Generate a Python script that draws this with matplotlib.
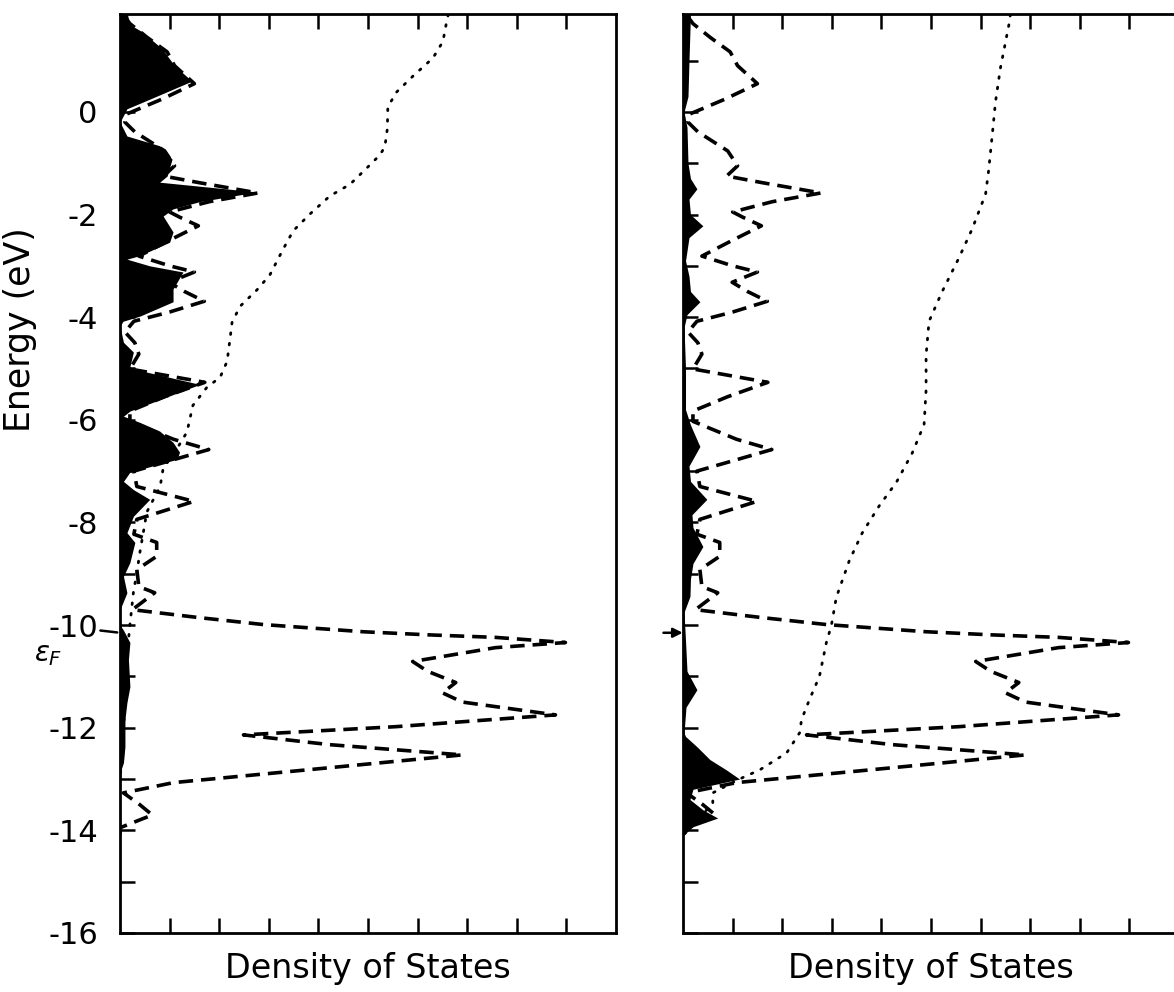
import numpy as np
import matplotlib
matplotlib.use("Agg")
import matplotlib.pyplot as plt

# energy (eV) / DOS pairs, top to bottom
total_E = [1.85, 1.72, 1.45, 1.17, 0.9, 0.55, 0.25, -0.04, -0.2, -0.39, -0.76, -1.05,
           -1.25, -1.38, -1.58, -1.75, -1.95, -2.05, -2.22, -2.5, -2.81, -3.0, -3.12,
           -3.32, -3.5, -3.69, -3.9, -4.08, -4.29, -4.5, -4.72, -5.01, -5.27, -5.55,
           -5.83, -6.03, -6.38, -6.58, -6.8, -7.0, -7.3, -7.59, -7.94, -8.23, -8.39,
           -8.66, -8.92, -9.25, -9.37, -9.7, -9.85, -9.99, -10.13, -10.19, -10.24,
           -10.34, -10.44, -10.71, -10.9, -11.12, -11.32, -11.5, -11.75, -11.98,
           -12.14, -12.33, -12.53, -12.78, -13.07, -13.27, -13.5, -13.7, -13.95, -14.2]
total_dos = [0.1, 0.2, 0.55, 0.95, 1.1, 1.5, 0.85, 0.14, 0.1, 0.3, 0.9, 1.1,
             0.88, 1.6, 2.78, 1.8, 1.0, 1.2, 1.58, 1.0, 0.38, 1.0, 1.5,
             0.99, 1.3, 1.7, 1.0, 0.28, 0.1, 0.3, 0.38, 0.2, 1.71, 0.9,
             0.2, 0.2, 1.08, 1.79, 1.0, 0.28, 0.34, 1.49, 0.34, 0.28, 0.74,
             0.74, 0.34, 0.38, 0.7, 0.25, 1.55, 2.89, 4.9, 6.2, 7.57,
             8.98, 7.57, 5.9, 6.2, 6.77, 6.5, 6.9, 8.78, 5.56,
             2.49, 4.22, 6.9, 4.22, 1.08, 0.07, 0.4, 0.65, 0.0, 0.0]

left_E = [1.9, 1.7, 1.56, 1.23, 0.9, 0.6, 0.31, 0.06, -0.2, -0.47, -0.66, -0.92, -1.25,
          -1.37, -1.56, -1.75, -1.89, -2.03, -2.34, -2.54, -2.8, -2.87, -3.0, -3.12,
          -3.45, -3.7, -3.98, -4.08, -4.18, -4.49, -4.68, -4.96, -5.01, -5.31, -5.83,
          -5.93, -6.05, -6.22, -6.44, -6.63, -6.77, -7.02, -7.2, -7.36, -7.55, -7.88,
          -8.2, -8.39, -8.78, -9.05, -9.37, -9.7, -10.0, -10.1, -10.34, -10.67, -11.2,
          -11.51, -11.84, -12.37, -12.68, -12.88, -16.0]
left_pdos = [0.15, 0.2, 0.45, 0.85, 1.1, 1.45, 0.75, 0.14, 0.0, 0.14, 0.8, 1.05, 0.95,
             0.8, 2.76, 1.6, 1.07, 0.87, 1.07, 1.0, 0.4, 0.14, 0.6, 1.27,
             1.07, 1.07, 0.4, 0.06, 0.0, 0.07, 0.27, 0.2, 0.27, 1.61, 0.2,
             0.07, 0.4, 0.8, 1.07, 1.2, 1.15, 0.2, 0.07, 0.27, 0.6, 0.27,
             0.14, 0.3, 0.2, 0.07, 0.14, 0.0, 0.0, 0.07, 0.2, 0.17, 0.2,
             0.14, 0.1, 0.1, 0.07, 0.0, 0.0]

right_E = [1.9, 1.0, 0.3, 0.0, -0.3, -1.0, -1.3, -1.5, -1.7, -2.0, -2.22, -2.45, -2.9,
           -3.2, -3.5, -3.7, -3.95, -4.2, -5.0, -5.8, -6.1, -6.52, -6.9, -7.2, -7.55,
           -7.85, -8.1, -8.47, -8.8, -9.1, -9.44, -9.75, -10.3, -10.9, -11.26, -11.6,
           -12.1, -12.17, -12.37, -12.62, -12.82, -13.0, -13.2, -13.4, -13.6, -13.76,
           -13.93, -14.1, -16.0]
right_pdos = [0.15, 0.12, 0.1, 0.02, 0.08, 0.1, 0.15, 0.28, 0.12, 0.15, 0.4, 0.12, 0.05,
              0.12, 0.15, 0.34, 0.08, 0.02, 0.05, 0.05, 0.15, 0.34, 0.12, 0.15, 0.48,
              0.18, 0.2, 0.4, 0.2, 0.15, 0.14, 0.02, 0.05, 0.08, 0.28, 0.06,
              0.02, 0.05, 0.28, 0.54, 0.87, 1.14, 0.2, 0.14, 0.4, 0.7,
              0.2, 0.0, 0.0]

left_int_E = [1.9, 1.78, 1.37, 1.05, 0.7, 0.39, 0.1, -0.33, -0.68, -0.84, -1.09, -1.41,
              -1.64, -1.99, -2.32, -2.71, -3.18, -3.47, -3.79, -4.1, -4.41, -4.86, -5.17,
              -5.37, -5.72, -6.24, -6.56, -6.95, -7.3, -7.8, -8.2, -8.59, -8.98, -9.37,
              -10.0, -10.5, -11.5, -12.5, -13.0]
left_int = [6.62, 6.59, 6.51, 6.31, 5.91, 5.58, 5.4, 5.39, 5.34, 5.24, 4.98, 4.64,
            4.23, 3.83, 3.49, 3.27, 3.02, 2.76, 2.42, 2.26, 2.22, 2.16, 2.02,
            1.75, 1.47, 1.35, 1.15, 0.87, 0.81, 0.54, 0.47, 0.4, 0.34, 0.27,
            0.2, 0.15, 0.1, 0.05, 0.0]

right_int_E = [1.9, 1.7, 0.86, 0.2, -0.49, -1.15, -1.6, -2.28, -2.85, -3.51, -4.08, -4.74,
               -5.42, -6.09, -6.65, -7.22, -7.67, -8.21, -8.75, -9.46, -10.01, -10.34,
               -11.0, -11.45, -11.84, -12.1, -12.49, -12.82, -13.0, -13.27, -13.46,
               -13.8, -14.1]
right_int = [6.6, 6.57, 6.4, 6.3, 6.23, 6.16, 6.1, 5.83, 5.56, 5.22, 4.96, 4.9,
             4.9, 4.86, 4.62, 4.3, 3.96, 3.61, 3.35, 3.09, 2.99, 2.89,
             2.75, 2.55, 2.39, 2.35, 2.09, 1.55, 1.14, 0.6, 0.6,
             0.3, 0.0]

e_fermi = -10.15
y_major = [-16, -14, -12, -10, -8, -6, -4, -2, 0]
y_labels = ["-16", "-14", "-12", "-10", "-8", "-6", "-4", "-2", "0"]

fig = plt.figure(figsize=(11.74, 9.92), dpi=100)
ax1 = fig.add_axes([0.1022, 0.0595, 0.4225, 0.926])
ax2 = fig.add_axes([0.5818, 0.0595, 0.4225, 0.926])

dash = (0, (4, 2.2))
dots = (0, (0.6, 3.2))

panels = [(ax1, left_E, left_pdos, left_int_E, left_int),
          (ax2, right_E, right_pdos, right_int_E, right_int)]
for ax, pE, pdos, iE, idos in panels:
    ax.plot(total_dos, total_E, color="black", lw=2.6, ls=dash, zorder=2)
    ax.fill_betweenx(pE, 0, pdos, color="black", lw=0, zorder=3)
    ax.plot(idos, iE, color="black", lw=2.0, ls=dots, dash_capstyle="round", zorder=2)

    ax.set_xlim(0, 10)
    ax.set_ylim(-16, 1.9)
    ax.set_xticks(np.arange(1, 10))
    ax.set_xticklabels([])
    ax.set_yticks(y_major)
    ax.set_yticks(np.arange(-15, 2, 2), minor=True)
    ax.tick_params(axis="both", which="both", direction="in", length=11, width=1.8,
                   top=True, right=False)
    for s in ax.spines.values():
        s.set_linewidth(2.0)
    ax.set_xlabel("Density of States", fontsize=24, labelpad=10)

ax1.set_yticklabels(y_labels, fontsize=22)
ax1.tick_params(axis="y", which="major", pad=16)
ax2.set_yticklabels([])

fig.text(0.017, 0.668, "Energy (eV)", rotation=90, fontsize=25, ha="center", va="center")

# Fermi level markers
ax1.annotate("", xy=(0, e_fermi), xytext=(-0.45, e_fermi + 0.05),
             arrowprops=dict(arrowstyle="-", lw=1.8, color="black"),
             annotation_clip=False)
ax1.text(-1.45, e_fermi - 0.42, r"$\epsilon_F$", fontsize=20, ha="center", va="center")
ax2.annotate("", xy=(0.05, e_fermi), xytext=(-0.45, e_fermi),
             arrowprops=dict(arrowstyle="-|>", lw=1.8, color="black", mutation_scale=14),
             annotation_clip=False)

fig.savefig("out.png", dpi=100)
